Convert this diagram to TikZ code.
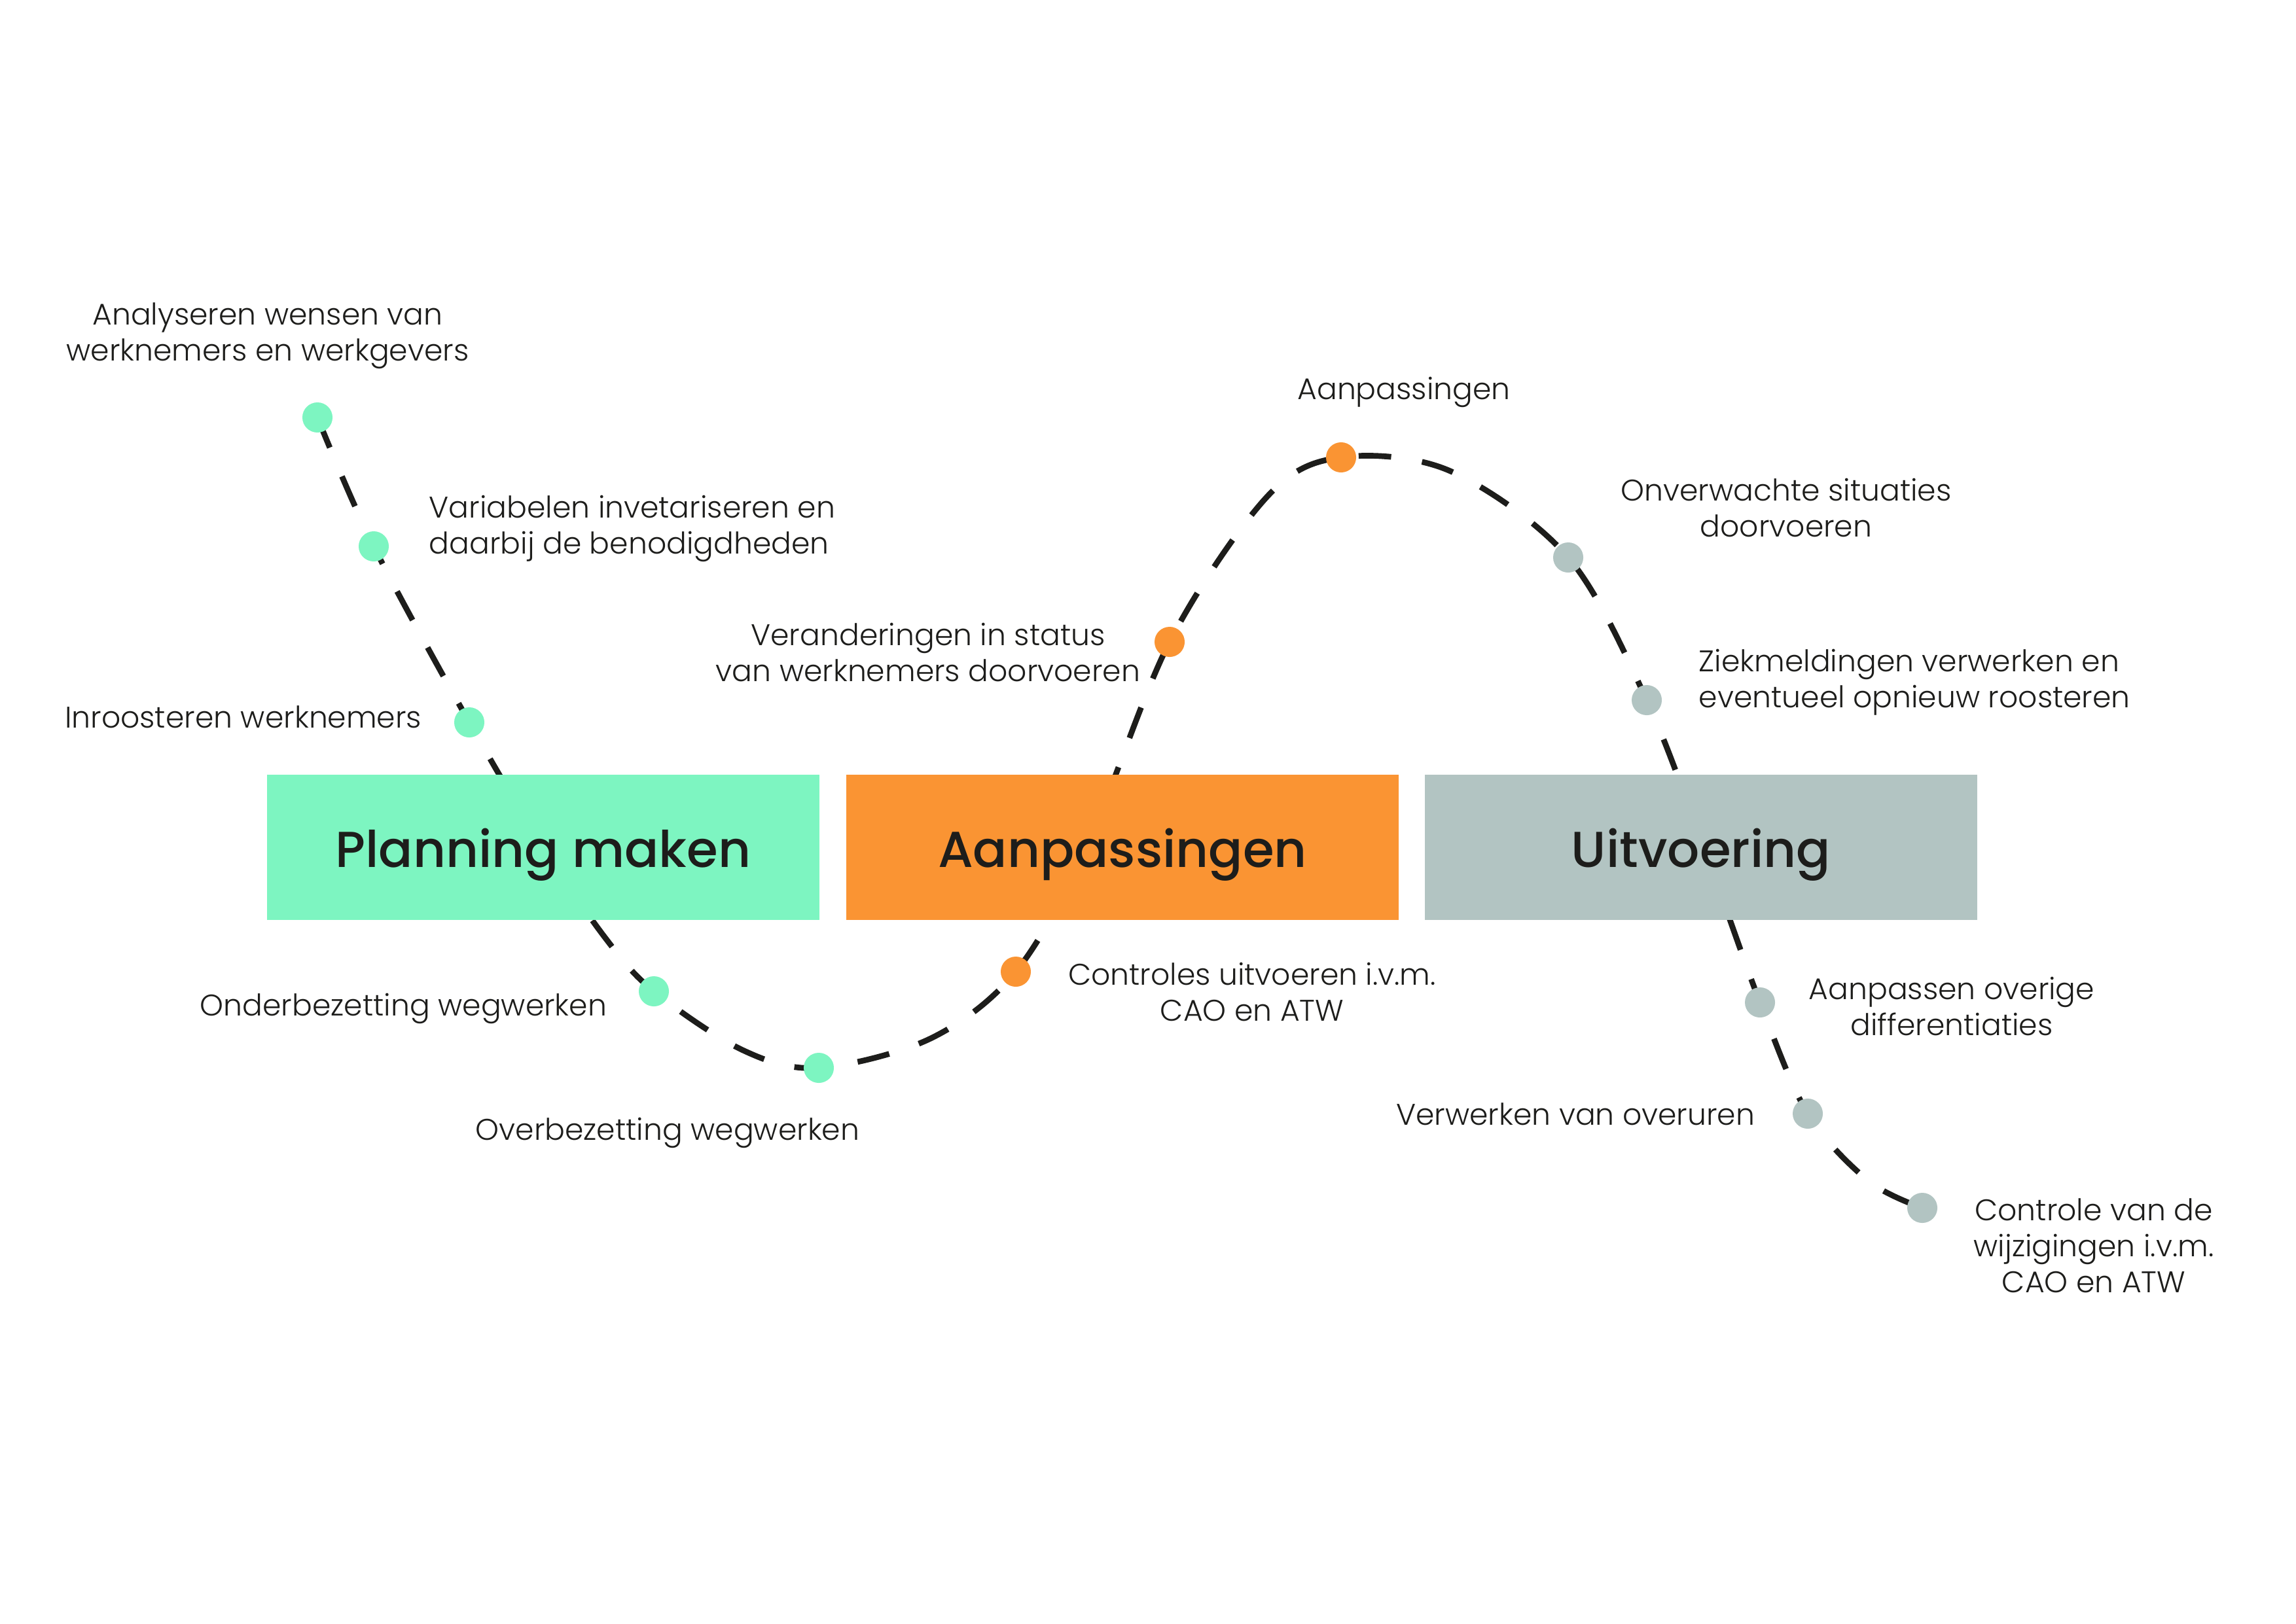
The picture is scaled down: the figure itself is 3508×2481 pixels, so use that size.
\documentclass[tikz,border=0pt]{standalone}
\usepackage{fontspec}
\IfFontExistsTF{Poppins Light}{\setmainfont{Poppins Light}}{\setmainfont{Poppins}}
\IfFontExistsTF{Poppins Medium}{\newfontfamily\titlefont{Poppins Medium}}{\newfontfamily\titlefont{Poppins}}
\definecolor{mint}{HTML}{7DF5C1}
\definecolor{orng}{HTML}{FA9433}
\definecolor{grey}{HTML}{B2C4C2}
\definecolor{txt}{HTML}{1D1D1B}
\begin{document}
\begin{tikzpicture}[x=0.0084664cm,y=-0.0084664cm,
  curve/.style={line width=2.1pt, dash pattern=on 12pt off 11.5pt, draw=txt},
  dot/.style={circle, minimum size=3.9mm, inner sep=0pt},
  lbl/.style={font=\fontsize{11}{13.2}\selectfont, text=txt, align=center, inner sep=0pt},
  phase/.style={minimum width=71.4mm, minimum height=18.8mm, inner sep=0pt},
  ttl/.style={inner sep=0pt, text=txt, font=\titlefont\fontsize{18.6}{22}\selectfont}]
\useasboundingbox (0,0) rectangle (3508,2481);
% points of the wave
\coordinate (d1) at (485,638);
\coordinate (d2) at (571,835);
\coordinate (d3) at (717,1104);
\coordinate (h1) at (830,1295);
\coordinate (q1) at (926,1435);
\coordinate (d4) at (999,1515);
\coordinate (q2) at (1135,1605);
\coordinate (d5) at (1251,1632);
\coordinate (q3) at (1422,1587);
\coordinate (d6) at (1552,1485);
\coordinate (h2) at (1660,1295);
\coordinate (d7) at (1787,981);
\coordinate (q4) at (1936,759);
\coordinate (d8) at (2049,699);
\coordinate (q5) at (2216,720);
\coordinate (d9) at (2396,852);
\coordinate (d10) at (2516,1070);
\coordinate (h3) at (2605,1300);
\coordinate (d11) at (2689,1532);
\coordinate (d12) at (2762,1702);
\coordinate (q6) at (2855,1805);
\coordinate (d13) at (2937,1846);
\draw[curve] plot[smooth, tension=0.55] coordinates {(d1) (d2) (d3) (h1) (q1) (d4) (q2) (d5) (q3) (d6) (h2) (d7) (q4) (d8) (q5) (d9) (d10) (h3) (d11) (d12) (q6) (d13)};
% phase boxes
\node[phase, fill=mint] (b1) at (830,1295) {};
\node[phase, fill=orng] (b2) at (1715,1295) {};
\node[phase, fill=grey] (b3) at (2599,1295) {};
\node[ttl] (t1) at ([yshift=-0.95mm]b1.center) {Planning maken};
\node[ttl] (t2) at ([yshift=-0.95mm]b2.center) {Aanpassingen};
\node[ttl] (t3) at ([yshift=-0.95mm]b3.center) {Uitvoering};
% dots
\foreach \p in {d1,d2,d3,d4,d5} \node[dot, fill=mint] at (\p) {};
\foreach \p in {d6,d7,d8} \node[dot, fill=orng] at (\p) {};
\foreach \p in {d9,d10,d11,d12,d13} \node[dot, fill=grey] at (\p) {};
% labels
\node[lbl] (l1) at (409,513) {Analyseren wensen van\\werknemers en werkgevers};
\node[lbl, anchor=west, align=left] (l2) at (655,808) {Variabelen invetariseren en\\daarbij de benodigdheden};
\node[lbl, anchor=east] (l3) at (645,1096) {Inroosteren werknemers};
\node[lbl, anchor=east] (l4) at (928,1541) {Onderbezetting wegwerken};
\node[lbl] (l5) at (1020,1731) {Overbezetting wegwerken};
\node[lbl] (l6) at (1913,1516) {Controles uitvoeren i.v.m.\\CAO en ATW};
\node[lbl] (l7) at (1418,997) {Veranderingen in status\\van werknemers doorvoeren};
\node[lbl] (l8) at (2145,599) {Aanpassingen};
\node[lbl] (l9) at (2729,776) {Onverwachte situaties\\doorvoeren};
\node[lbl, anchor=west, align=left] (l10) at (2595,1043) {Ziekmeldingen verwerken en\\eventueel opnieuw roosteren};
\node[lbl] (l11) at (2982,1538) {Aanpassen overige\\differentiaties};
\node[lbl, anchor=east] (l12) at (2682,1703) {Verwerken van overuren};
\node[lbl] (l13) at (3199,1904) {Controle van de\\wijzigingen i.v.m.\\CAO en ATW};
\end{tikzpicture}
\end{document}
